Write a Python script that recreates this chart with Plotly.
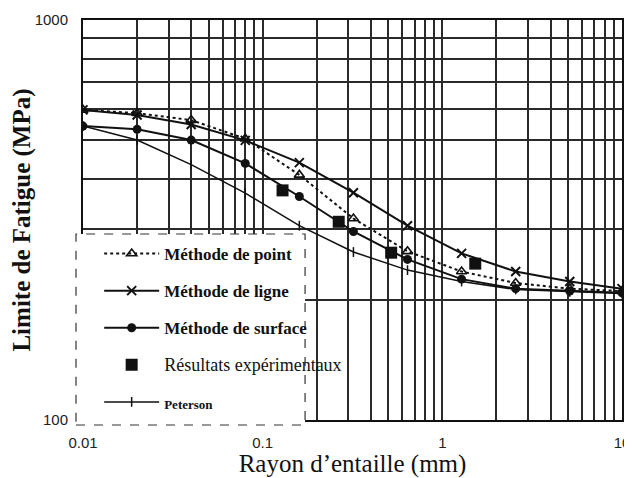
import plotly.graph_objects as go

# ---- data ----
rayon = [0.01, 0.02, 0.04, 0.08, 0.16, 0.32, 0.64, 1.28, 2.56, 5.12, 10]
methode_point = [596, 585, 562, 505, 410, 319, 264, 235, 220, 213, 210]
methode_ligne = [596, 579, 548, 500, 440, 370, 306, 261, 235, 222, 213]
methode_surface = [543, 533, 501, 438, 362, 296, 252, 225, 213, 210, 208]
peterson = [543, 501, 435, 369, 306, 263, 237, 222, 212, 209, 207]
exp_rayon = [0.129, 0.265, 0.519, 1.525]
exp_limite = [375, 313, 262, 246]

x_ticks = [0.01, 0.1, 1, 10]
x_ticktext = ["0.01", "0.1", "1", "10"]
y_ticks = [100, 1000]
y_ticktext = ["100", "1000"]

INK = "#111111"
GRID = "#2a2a2a"

x_minor = [k * 10.0 ** e for e in (-2, -1, 0) for k in range(2, 10)]
y_minor = [k * 100 for k in range(2, 10)]

fig = go.Figure()

fig.add_trace(go.Scatter(
    x=rayon, y=methode_point, mode="lines+markers",
    name="<b>Méthode de point</b>", legendgroup="a",
    line=dict(color=INK, width=2, dash="dot"),
    marker=dict(symbol="triangle-up-open", size=9, color=INK, line=dict(width=1.6, color=INK)),
))
fig.add_trace(go.Scatter(
    x=rayon, y=methode_ligne, mode="lines+markers",
    name="<b>Méthode de ligne</b>", legendgroup="b",
    line=dict(color=INK, width=2),
    marker=dict(symbol="x-thin-open", size=9, color=INK, line=dict(width=2, color=INK)),
))
fig.add_trace(go.Scatter(
    x=rayon, y=methode_surface, mode="lines+markers",
    name="<b>Méthode de surface</b>", legendgroup="c",
    line=dict(color=INK, width=2),
    marker=dict(symbol="circle", size=9, color=INK),
))
fig.add_trace(go.Scatter(
    x=exp_rayon, y=exp_limite, mode="markers",
    name="<span style='font-size:18px'>Résultats expérimentaux</span>", legendgroup="d",
    marker=dict(symbol="square", size=12, color=INK),
))
fig.add_trace(go.Scatter(
    x=rayon, y=peterson, mode="lines+markers",
    name="<span style='font-size:13px'><b>Peterson</b></span>", legendgroup="e",
    line=dict(color=INK, width=1.5),
    marker=dict(symbol="line-ns-open", size=7, color=INK, line=dict(width=1.5, color=INK)),
))

axis_common = dict(
    type="log", automargin=False,
    showgrid=True, gridcolor=GRID, gridwidth=1.6,
    showline=True, linecolor=INK, linewidth=2, mirror=True,
    ticks="", zeroline=False,
    tickfont=dict(family="Liberation Sans, Arial", size=15, color="#222222"),
)

fig.update_xaxes(
    **axis_common,
    range=[-2, 1],
    tickvals=x_ticks, ticktext=x_ticktext,
    ticklabelstandoff=8,
    minor=dict(tickvals=x_minor, showgrid=True, gridcolor=GRID, gridwidth=1.6, ticks=""),
    title=dict(text="Rayon d’entaille (mm)", standoff=6,
               font=dict(family="Liberation Serif, Times New Roman", size=25, color=INK)),
)
fig.update_yaxes(
    **axis_common,
    range=[2, 3],
    tickvals=y_ticks, ticktext=y_ticktext,
    ticklabelstandoff=10,
    minor=dict(tickvals=y_minor, showgrid=True, gridcolor=GRID, gridwidth=1.6, ticks=""),
    title=dict(text="<b>Limite de Fatigue (MPa)</b>", standoff=0,
               font=dict(family="Liberation Serif, Times New Roman", size=25, color=INK)),
)

# white legend panel (as in the original, it hides the grid behind the key)
fig.add_shape(
    type="rect", xref="paper", yref="paper",
    x0=-0.013, x1=0.412, y0=-0.0125, y1=0.465,
    fillcolor="white", line=dict(color="#333333", width=1.2, dash="dash"),
    layer="above",
)

# the page body keeps its default 8px margin, so the figure is sized to fill
# the remaining 624x470 of the 632x478 window
fig.update_layout(
    width=624, height=470,
    margin=dict(l=75, r=10, t=12, b=58),
    paper_bgcolor="white", plot_bgcolor="white",
    font=dict(family="Liberation Serif, Times New Roman", color=INK),
    showlegend=True,
    legend=dict(
        x=0.03, y=0.46, xanchor="left", yanchor="top",
        bgcolor="rgba(0,0,0,0)", borderwidth=0,
        font=dict(family="Liberation Serif, Times New Roman", size=17, color=INK),
        itemwidth=55, tracegroupgap=12, traceorder="grouped",
    ),
)

fig.write_html("out.html")
